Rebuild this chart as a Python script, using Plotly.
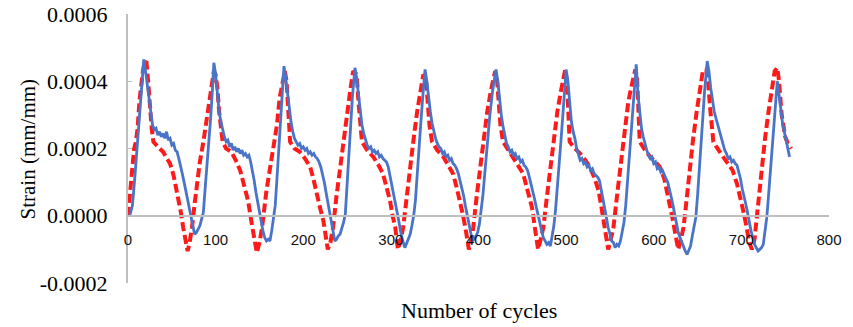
import plotly.graph_objects as go

# Blue series (measured) - cycles, strain x1e-4
blue_x = [2,5,8,11,14,16,18,20,22,24,26,28,30,32,34,36,38,40,42,44,46,48,50,52,54,56,58,60,62,64,66,68,70,72,74,76,78,80,82,84,86,88,90,92,94,96,98,
          100,102,104,106,108,110,112,114,116,118,120,122,124,126,128,130,132,134,136,138,140,142,144,146,148,150,152,154,156,158,160,162,164,166,168,170,172,174,176,178,
          180,182,184,186,188,190,192,194,196,198,200,202,204,206,208,210,212,214,216,218,220,222,224,226,228,230,232,234,236,238,240,242,244,246,248,250,252,254,256,259,
          261,263,265,267,269,271,273,275,277,279,281,283,285,287,289,291,293,295,297,299,301,303,305,307,309,311,313,316,318,320,322,324,326,328,330,332,334,336,339,
          341,343,345,347,349,351,353,355,357,359,361,363,365,367,369,371,373,375,377,379,381,383,385,387,389,391,393,395,397,399,401,403,405,407,409,411,413,416,420,
          422,424,426,428,430,432,434,436,438,440,442,444,446,448,450,452,454,456,458,460,462,464,466,468,470,472,474,476,478,480,482,484,486,488,490,492,494,496,498,500,
          502,504,506,508,510,512,514,516,518,520,522,524,526,528,530,532,534,536,538,540,542,544,546,548,550,552,554,556,558,560,562,564,566,568,570,572,574,576,578,580,
          582,584,586,588,590,592,594,596,598,600,602,604,606,608,610,612,614,616,618,620,622,624,626,628,630,632,634,636,638,640,642,644,646,648,650,652,654,656,658,661,
          663,665,667,669,671,673,675,677,679,681,683,685,687,689,691,693,695,697,699,701,703,705,707,709,711,713,715,717,719,721,723,725,727,729,731,733,735,737,739,741,
          743,745,747,749,751,753,755]
blue_y = [0,0.3,1.2,2.2,3.4,4.0,4.65,4.3,3.9,3.4,3.0,2.7,2.55,2.6,2.4,2.5,2.35,2.45,2.3,2.5,2.25,2.3,2.1,2.15,1.95,1.9,1.7,1.5,1.25,1.0,0.75,0.5,0.25,0.0,-0.3,-0.55,-0.5,-0.4,-0.3,-0.1,0.1,0.8,1.4,2.1,2.8,3.6,4.55,
          4.2,3.6,3.1,2.8,2.55,2.35,2.2,2.25,2.05,2.15,1.95,2.05,1.9,2.0,1.85,1.95,1.8,1.85,1.75,1.8,1.6,1.35,1.05,0.7,0.4,0.1,-0.2,-0.45,-0.65,-0.75,-0.7,-0.75,-0.45,-0.1,0.3,1.1,1.9,2.6,3.4,4.45,
          4.1,3.6,3.2,2.8,2.5,2.3,2.2,2.1,2.15,2.0,2.05,1.95,2.0,1.85,1.9,1.8,1.85,1.75,1.7,1.6,1.45,1.25,1.0,0.7,0.4,0.1,-0.2,-0.5,-0.75,-0.7,-0.6,-0.55,-0.4,-0.2,0.05,1.0,2.0,2.8,3.5,4.4,
          4.1,3.6,3.1,2.7,2.45,2.25,2.1,2.0,2.05,1.9,1.95,1.85,1.9,1.75,1.8,1.7,1.65,1.6,1.45,1.2,0.95,0.7,0.4,0.1,-0.15,-0.45,-0.7,-0.95,-0.8,-0.65,-0.55,-0.3,0.0,0.45,1.3,2.0,2.7,3.4,4.35,
          4.0,3.5,3.1,2.75,2.5,2.3,2.15,2.05,2.0,1.85,1.9,1.75,1.8,1.65,1.7,1.55,1.5,1.4,1.25,1.05,0.85,0.6,0.3,0.05,-0.25,-0.5,-0.75,-0.7,-0.6,-0.5,-0.25,0.1,0.6,1.2,1.9,2.45,3.0,3.7,4.35,
          4.0,3.4,3.0,2.65,2.4,2.15,2.05,1.9,1.95,1.8,1.85,1.7,1.75,1.6,1.65,1.5,1.45,1.35,1.15,0.95,0.75,0.5,0.25,0.05,-0.2,-0.45,-0.65,-0.75,-0.85,-0.8,-0.9,-0.6,-0.3,0.2,0.8,1.5,2.2,2.9,3.6,4.35,
          4.0,3.3,2.8,2.5,2.3,2.0,1.85,1.65,1.7,1.55,1.6,1.45,1.5,1.35,1.4,1.25,1.2,1.15,1.05,0.8,0.5,0.25,-0.05,-0.35,-0.55,-0.75,-0.8,-0.95,-0.85,-0.9,-0.75,-0.5,-0.2,0.3,1.0,1.7,2.4,3.1,3.8,4.5,
          3.6,3.0,2.6,2.35,2.1,1.95,1.8,1.7,1.75,1.55,1.6,1.4,1.45,1.3,1.35,1.2,1.1,1.0,0.8,0.55,0.3,0.05,-0.3,-0.5,-0.65,-0.8,-0.9,-1.05,-1.15,-1.0,-0.9,-0.6,-0.35,-0.05,0.6,1.4,2.1,2.9,3.7,4.6,
          4.3,3.8,3.4,3.1,2.9,2.7,2.5,2.3,2.1,1.95,1.85,1.7,1.75,1.6,1.65,1.55,1.5,1.3,1.1,0.8,0.6,0.35,0.1,-0.2,-0.45,-0.65,-0.85,-0.95,-1.05,-1.0,-0.95,-0.85,-0.5,-0.05,0.6,1.3,2.0,2.7,3.4,4.0,
          3.6,3.1,2.75,2.5,2.25,2.0,1.75]

# Red series (model) - cycles, strain x1e-4
red_x = [0,3,5,7,9,11,13,15,17,19,21,23,25,27,29,32,36,40,44,48,52,56,60,63,66,68,70,73,76,78,82,86,90,94,98,
         100,102,104,106,108,112,118,123,128,132,137,141,144,147,150,153,158,162,166,170,173,176,179,
         181,183,185,190,196,202,208,212,215,219,223,226,228,231,234,238,242,246,250,254,257,
         261,263,265,267,273,280,286,291,295,299,302,305,308,311,314,318,322,326,330,334,337,
         340,342,344,347,353,360,366,371,375,379,382,385,389,392,394,398,402,406,410,414,419,
         421,423,425,428,434,440,446,451,455,458,461,464,466,468,471,474,478,482,486,490,494,499,
         501,502,504,510,516,522,527,532,537,540,542,545,548,551,554,559,564,568,571,575,579,
         581,582,584,590,596,602,607,612,616,619,622,625,628,631,634,638,641,645,649,653,656,660,
         662,664,666,668,674,679,685,690,695,700,703,706,709,712,715,719,723,727,731,735,738,
         741,743,746,748,750,753,757]
red_y = [0,0.8,1.6,2.0,2.2,2.6,3.4,3.9,4.3,4.55,4.6,4.0,3.2,2.6,2.2,2.1,2.0,1.9,1.75,1.55,1.2,0.7,0.15,-0.35,-0.8,-1.05,-0.85,-0.35,0.35,0.85,1.6,2.2,2.9,3.6,4.3,
         4.2,3.8,3.1,2.6,2.2,2.0,1.9,1.65,1.35,0.95,0.45,-0.2,-0.65,-1.1,-0.8,-0.35,0.75,1.4,1.9,2.7,3.5,3.9,4.3,
         4.0,3.0,2.2,2.0,1.9,1.7,1.45,1.05,0.65,0.25,-0.15,-0.6,-1.0,-0.8,-0.35,0.6,1.45,2.3,3.1,3.8,4.3,
         4.2,3.4,2.6,2.2,1.95,1.75,1.5,1.25,0.85,0.45,0.0,-0.35,-1.0,-0.75,-0.35,0.6,1.45,2.3,3.1,3.7,4.2,
         4.1,3.4,2.7,2.2,1.95,1.75,1.5,1.25,0.85,0.45,0.05,-0.35,-1.0,-0.7,-0.35,0.6,1.45,2.3,3.1,3.7,4.3,
         4.1,3.4,2.7,2.2,1.95,1.75,1.5,1.25,0.85,0.5,0.25,-0.3,-0.7,-1.0,-0.7,-0.35,0.55,1.45,2.3,3.1,3.7,4.35,
         4.0,3.3,2.2,2.0,1.85,1.65,1.45,1.15,0.75,0.3,-0.05,-0.55,-1.0,-0.7,-0.35,0.8,1.95,2.8,3.4,3.9,4.35,
         4.1,3.4,2.2,1.95,1.75,1.6,1.45,1.1,0.65,0.25,-0.15,-0.6,-1.0,-0.7,-0.35,0.6,1.45,2.3,3.1,3.8,4.3,4.35,
         4.0,3.3,2.6,2.2,1.95,1.75,1.55,1.35,0.95,0.45,0.05,-0.35,-0.8,-1.0,-0.7,0.3,1.45,2.3,3.1,3.8,4.3,
         4.4,4.0,3.0,2.6,2.35,2.15,2.0]

y_ticks = [-0.0002, 0.0, 0.0002, 0.0004, 0.0006]
y_tick_labels = ["-0.0002", "0.0000", "0.0002", "0.0004", "0.0006"]
x_ticks = [0, 100, 200, 300, 400, 500, 600, 700, 800]

scale = 1e-4
fig = go.Figure()
fig.add_trace(go.Scatter(x=red_x, y=[v * scale for v in red_y], mode="lines",
                         line=dict(color="#ff1a1a", width=4, dash="9px,4px"),
                         showlegend=False))
fig.add_trace(go.Scatter(x=blue_x, y=[v * scale for v in blue_y], mode="lines",
                         line=dict(color="#4a74c8", width=2.8),
                         showlegend=False))

fig.update_layout(
    width=853, height=327,
    margin=dict(l=128, r=24, t=14, b=44),
    paper_bgcolor="white", plot_bgcolor="white",
    xaxis=dict(range=[0, 800], tickvals=x_ticks, showgrid=False, zeroline=False,
               showline=True, linecolor="#bfbfbf", linewidth=2,
               anchor="free", position=0.25, ticks="", automargin=False,
               ticklabelstandoff=10,
               tickfont=dict(family="Liberation Sans", size=15, color="#111")),
    yaxis=dict(range=[-0.0002, 0.0006], tickvals=y_ticks, ticktext=y_tick_labels,
               showgrid=False, zeroline=False, showline=True, linecolor="#bfbfbf",
               linewidth=2, ticks="inside", ticklen=4, tickcolor="#bfbfbf",
               ticklabelstandoff=14, automargin=False,
               tickfont=dict(family="Liberation Serif", size=22, color="black")),
    annotations=[
        dict(text="Number of cycles", x=0.5, y=-0.104, xref="paper", yref="paper",
             xanchor="center", yanchor="middle", showarrow=False,
             font=dict(family="Liberation Serif", size=22, color="black")),
        dict(text="Strain (mm/mm)", x=-0.1427, y=0.5, xref="paper", yref="paper",
             xanchor="center", yanchor="middle", showarrow=False, textangle=-90,
             font=dict(family="Liberation Serif", size=21, color="black")),
    ],
)

fig.write_html("out.html", config={"displayModeBar": False},
               post_script="document.body.style.margin='0';document.body.style.overflow='hidden';")
